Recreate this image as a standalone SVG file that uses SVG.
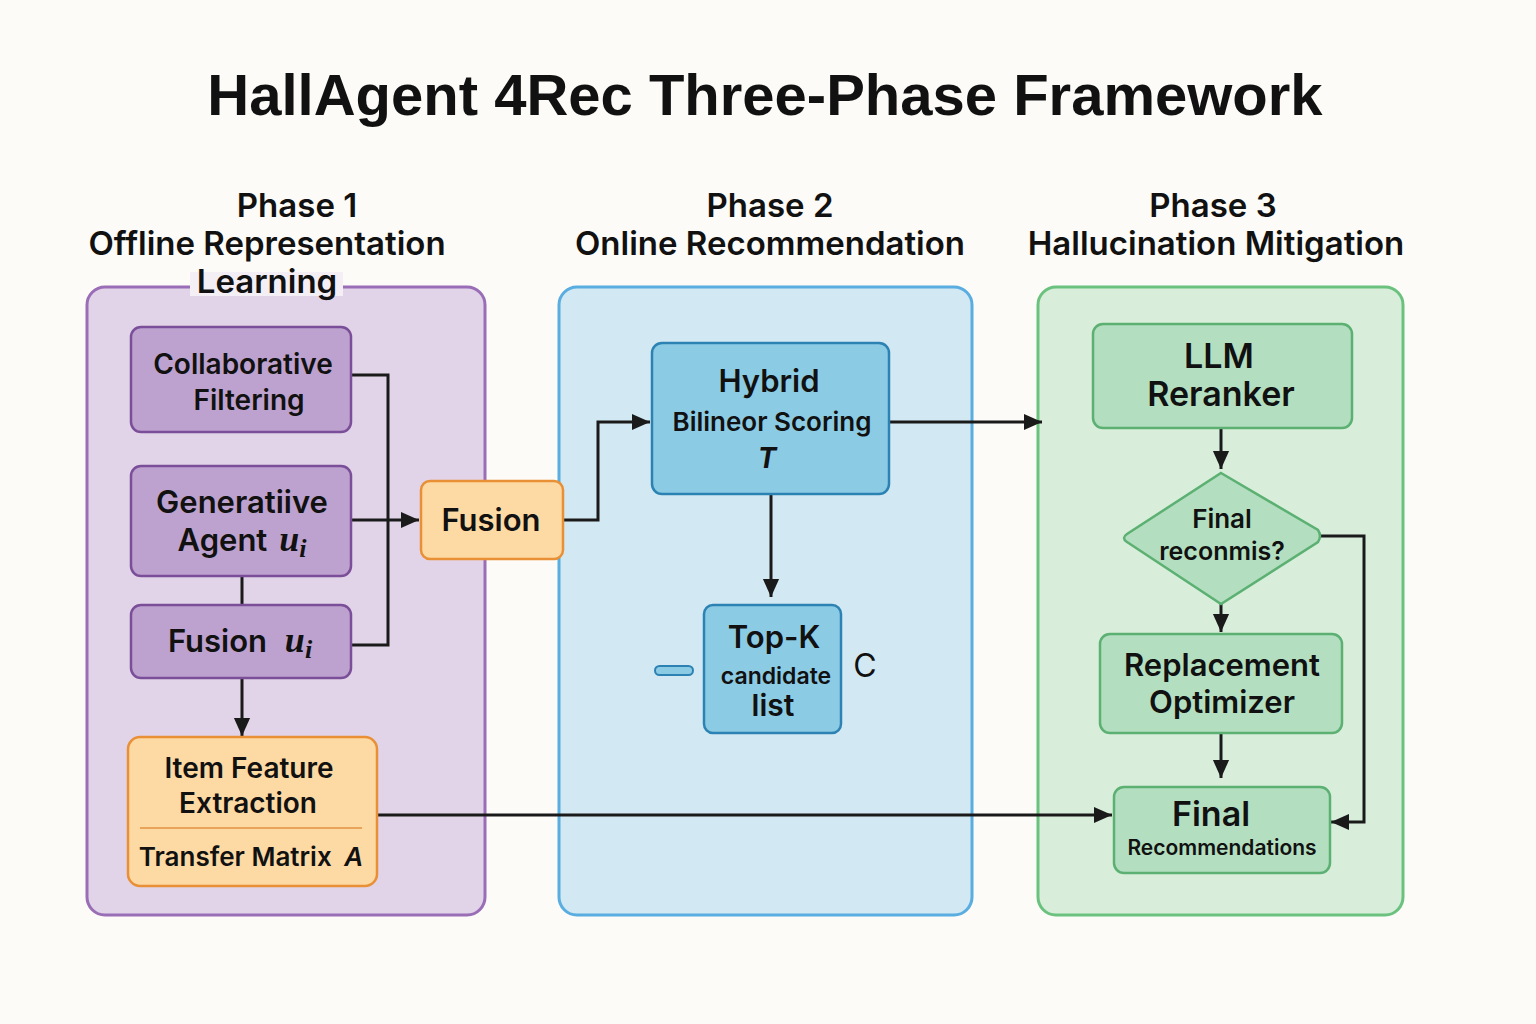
<svg xmlns="http://www.w3.org/2000/svg" width="1536" height="1024" viewBox="0 0 1536 1024">
<defs>
<marker id="arr" viewBox="0 0 10 10" refX="10" refY="5" markerWidth="18" markerHeight="18" orient="auto" markerUnits="userSpaceOnUse">
<path d="M0,0.5 L10,5 L0,9.5 z" fill="#1a1a1a"/>
</marker>
</defs>
<style>
text{font-family:Inter,"Noto Sans","Liberation Sans",sans-serif;fill:#111;text-anchor:middle}
.title{font-family:"Liberation Sans",Arial,sans-serif;font-weight:700;font-size:58px}
.ph{font-size:33px;font-weight:600}
.n{font-weight:600}
.math{font-family:"Liberation Serif","DejaVu Serif",serif;font-style:italic}
.purple{fill:#bda2cf;stroke:#7b4e99;stroke-width:2.5}
.orange{fill:#fdd9a3;stroke:#e98f36;stroke-width:2.5}
.blue{fill:#8ccbe4;stroke:#2c83b3;stroke-width:2.5}
.green{fill:#b3dfc0;stroke:#5bb072;stroke-width:2.5}
.conn path,.conn line,.conn polyline{fill:none;stroke:#1a1a1a;stroke-width:3}
</style>
<rect x="0" y="0" width="1536" height="1024" fill="#fcfbf8"/>
<text class="title" x="765" y="115">HallAgent 4Rec Three-Phase Framework</text>

<g id="phase1">
<rect x="87" y="287" width="398" height="628" rx="18" fill="#e1d4e8" stroke="#9a6db7" stroke-width="3"/>
<rect x="190" y="272" width="153" height="24" fill="#f4eff5"/>
<text class="ph" x="297" y="217">Phase 1</text>
<text class="ph" x="267" y="255">Offline Representation</text>
<text class="ph" x="267" y="293">Learning</text>
</g>
<g id="phase2">
<rect x="559" y="287" width="413" height="628" rx="18" fill="#d2e8f2" stroke="#59ade0" stroke-width="3"/>
<text class="ph" x="770" y="217">Phase 2</text>
<text class="ph" x="770" y="255">Online Recommendation</text>
</g>
<g id="phase3">
<rect x="1038" y="287" width="365" height="628" rx="18" fill="#d8eedb" stroke="#6bc27e" stroke-width="3"/>
<text class="ph" x="1213" y="217">Phase 3</text>
<text class="ph" x="1216" y="255">Hallucination Mitigation</text>
</g>

<g class="conn" id="connectors">
<polyline points="351,375 388,375 388,645 351,645"/>
<line x1="351" y1="520" x2="419" y2="520" marker-end="url(#arr)"/>
<line x1="242" y1="576" x2="242" y2="605"/>
<line x1="242" y1="678" x2="242" y2="736" marker-end="url(#arr)"/>
<line x1="377" y1="815" x2="1112" y2="815" marker-end="url(#arr)"/>
<polyline points="563,520 598,520 598,422 650,422" marker-end="url(#arr)"/>
<line x1="771" y1="494" x2="771" y2="597" marker-end="url(#arr)"/>
<line x1="889" y1="422" x2="1042" y2="422" marker-end="url(#arr)"/>
<line x1="1221" y1="428" x2="1221" y2="469" marker-end="url(#arr)"/>
<line x1="1221" y1="604" x2="1221" y2="632" marker-end="url(#arr)"/>
<line x1="1221" y1="733" x2="1221" y2="778" marker-end="url(#arr)"/>
<polyline points="1320,536 1364,536 1364,822 1331,822" marker-end="url(#arr)"/>
</g>

<g id="cf">
<rect class="purple" x="131" y="327" width="220" height="105" rx="10"/>
<text class="n" x="243" y="374" font-size="28">Collaborative</text>
<text class="n" x="249" y="410" font-size="28">Filtering</text>
</g>
<g id="genagent">
<rect class="purple" x="131" y="466" width="220" height="110" rx="10"/>
<text class="n" x="242" y="513" font-size="31">Generatiive</text>
<text class="n" x="242" y="551" font-size="31">Agent <tspan class="math" font-size="36" dx="4">u</tspan><tspan class="math" font-size="26" font-weight="700" dy="6">i</tspan></text>
</g>
<g id="fusionui">
<rect class="purple" x="131" y="605" width="220" height="73" rx="10"/>
<text class="n" x="240" y="652" font-size="31">Fusion <tspan class="math" font-size="36" dx="10">u</tspan><tspan class="math" font-size="26" font-weight="700" dy="6">i</tspan></text>
</g>
<g id="itemfeat">
<rect class="orange" x="128" y="737" width="249" height="149" rx="12"/>
<text class="n" x="249" y="778" font-size="28">Item Feature</text>
<text class="n" x="248" y="813" font-size="28">Extraction</text>
<line x1="140" y1="828" x2="362" y2="828" stroke="#e0923f" stroke-width="1.5"/>
<text class="n" x="251" y="866" font-size="26">Transfer Matrix <tspan font-style="italic" dx="6">A</tspan></text>
</g>
<g id="fusion">
<rect class="orange" x="421" y="481" width="142" height="78" rx="9"/>
<text class="n" x="491" y="531" font-size="31">Fusion</text>
</g>

<g id="hybrid">
<rect class="blue" x="652" y="343" width="237" height="151" rx="10"/>
<text class="n" x="769" y="392" font-size="31">Hybrid</text>
<text class="n" x="772" y="431" font-size="26">Bilineor Scoring</text>
<text x="767" y="468" font-size="28" font-weight="700" font-style="italic">T</text>
</g>
<g id="topk">
<rect class="blue" x="704" y="605" width="137" height="128" rx="9"/>
<text class="n" x="774" y="648" font-size="31">Top-K</text>
<text class="n" x="776" y="684" font-size="23">candidate</text>
<text class="n" x="773" y="716" font-size="30">list</text>
</g>
<g id="pill">
<rect x="655" y="666" width="38" height="9" rx="4.5" fill="#8ccbe4" stroke="#2c83b3" stroke-width="2"/>
</g>
<text x="865" y="677" font-size="32" font-family="Liberation Sans,Arial,sans-serif">C</text>

<g id="llm">
<rect class="green" x="1093" y="324" width="259" height="104" rx="10"/>
<text class="n" x="1219" y="368" font-size="34">LLM</text>
<text class="n" x="1221" y="406" font-size="34">Reranker</text>
</g>
<g id="decision">
<path class="green" d="M1221,473 L1318,530 Q1322,536 1318,542 L1221,604 L1127,542 Q1121,538 1127,534 Z"/>
<text class="n" x="1222" y="528" font-size="26">Final</text>
<text class="n" x="1222" y="560" font-size="25">reconmis?</text>
</g>
<g id="replace">
<rect class="green" x="1100" y="634" width="242" height="99" rx="10"/>
<text class="n" x="1222" y="676" font-size="31">Replacement</text>
<text class="n" x="1222" y="713" font-size="31">Optimizer</text>
</g>
<g id="finalrec">
<rect class="green" x="1114" y="787" width="216" height="86" rx="10"/>
<text class="n" x="1211" y="826" font-size="34">Final</text>
<text class="n" x="1222" y="855" font-size="21">Recommendations</text>
</g>
</svg>
